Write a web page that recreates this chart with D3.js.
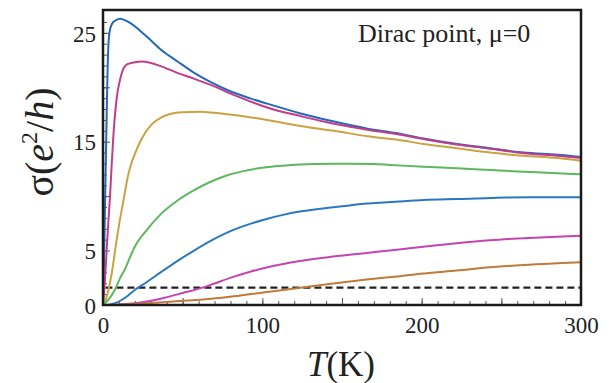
<!DOCTYPE html>
<html>
<head>
<meta charset="utf-8">
<script src="https://cdn.jsdelivr.net/npm/d3@7"></script>
<style>
  html, body { margin: 0; padding: 0; background: #fff; }
  svg { display: block; font-family: "Liberation Serif", "DejaVu Serif", serif; }
  svg text { font-family: "Liberation Serif", "DejaVu Serif", serif; }
</style>
</head>
<body>
<svg id="chart" width="613" height="383"></svg>
<script>
// Conductivity at the Dirac point vs temperature, one curve per disorder level.
const xTickLabels = [0, 100, 200, 300];
const yTickLabels = [0, 5, 15, 25];
const minimumConductivity = 1.6;

const t1 = [0, 0.5, 1, 1.5, 2, 2.5, 3, 3.5, 4.4, 6.5, 10.7, 15.9, 26.4, 36, 47, 57, 68, 78, 92, 103, 124, 145, 166, 184, 201, 222, 243, 264, 285, 300];
const s1 = [0, 3, 7, 11, 15, 19, 22.3, 24.2, 25.3, 26.0, 26.3, 26.0, 24.8, 23.5, 22.35, 21.35, 20.45, 19.75, 19.0, 18.5, 17.6, 16.85, 16.2, 15.8, 15.3, 14.8, 14.4, 14.0, 13.8, 13.6];

const t2 = [0, 1, 2, 3.3, 4.4, 5.5, 6.5, 8.6, 10.7, 12, 15, 20, 24.3, 37, 47, 57, 68, 82, 98, 103, 124, 145, 166, 184, 201, 222, 243, 264, 285, 300];
const s2 = [0, 1.8, 4.3, 7.5, 10, 13, 15.5, 19, 20.7, 21.4, 22.1, 22.3, 22.36, 21.9, 21.3, 20.8, 20.2, 19.3, 18.4, 18.15, 17.35, 16.65, 16.1, 15.7, 15.25, 14.75, 14.35, 13.95, 13.7, 13.5];

const t3 = [0, 2, 4, 5.5, 7, 8.6, 10, 11.7, 13.8, 15.9, 18, 20.1, 23, 26.4, 30, 33, 41, 50, 61, 70, 82, 103, 124, 145, 166, 184, 201, 222, 243, 264, 285, 300];
const s3 = [0, 0.6, 1.8, 2.9, 4.4, 6.0, 7.3, 8.7, 10.4, 12.0, 13.1, 13.9, 14.9, 15.8, 16.5, 16.9, 17.5, 17.7, 17.75, 17.65, 17.46, 17.0, 16.45, 16.0, 15.5, 15.2, 14.8, 14.4, 14.0, 13.7, 13.5, 13.25];

const t4 = [0, 1.3, 4, 7.5, 10.5, 13.8, 17, 20.1, 26.4, 36.3, 46.8, 57.2, 67.2, 77.6, 88, 98.5, 113, 132, 155, 170, 180, 201, 222, 243, 264, 285, 300];
const s4 = [0, 0.15, 0.6, 1.4, 2.4, 3.3, 4.4, 5.4, 6.7, 8.35, 9.6, 10.55, 11.3, 11.9, 12.3, 12.58, 12.8, 12.95, 12.97, 12.95, 12.87, 12.7, 12.56, 12.4, 12.25, 12.1, 12.0];

const t5 = [0, 3.3, 7, 11.7, 16, 20.1, 26.4, 36.8, 47.3, 57.7, 69, 81.8, 92.3, 102.7, 113, 123.6, 134, 144.5, 155, 165.5, 176, 186, 201, 222, 243, 253, 275, 300];
const s5 = [0, 0.03, 0.15, 0.46, 0.9, 1.4, 2.0, 3.06, 4.1, 5.05, 6.0, 6.9, 7.45, 7.9, 8.28, 8.58, 8.8, 8.97, 9.15, 9.32, 9.42, 9.5, 9.65, 9.74, 9.82, 9.88, 9.9, 9.9];

const t6 = [0, 7.5, 20, 36.8, 50, 63, 70, 81.8, 92.3, 102.7, 123.6, 144.5, 165.5, 183, 201, 222, 243, 264, 285, 300];
const s6 = [0, 0.02, 0.15, 0.6, 1.1, 1.62, 1.98, 2.58, 3.05, 3.45, 4.05, 4.45, 4.78, 5.05, 5.35, 5.68, 5.95, 6.13, 6.28, 6.37];

const t7 = [0, 10, 20, 30, 40, 48, 61, 82, 103, 124, 144.5, 165.5, 183, 201, 222, 243, 264, 285, 300];
const s7 = [0, 0.03, 0.1, 0.18, 0.28, 0.37, 0.48, 0.8, 1.2, 1.58, 1.98, 2.34, 2.6, 2.9, 3.17, 3.46, 3.68, 3.83, 3.92];

const curveTemps = [t1, t2, t3, t4, t5, t6, t7];
const curveSigmas = [s1, s2, s3, s4, s5, s6, s7];
const curveColors = ["#2468b8", "#c23c8c", "#c9a241", "#5cb85f", "#2a78bf", "#c444b0", "#c07a3a"];

const svg = d3.select("#chart");
const plotLeft = 103, plotRight = 581, plotTop = 10, plotBottom = 305;
const serif = "'Liberation Serif', 'DejaVu Serif', serif";

const x = d3.scaleLinear().domain([0, 300]).range([plotLeft, plotRight]);
const y = d3.scaleLinear().domain([0, 27.1]).range([plotBottom, plotTop]);

// clip curves to the frame
svg.append("clipPath").attr("id", "plotClip")
  .append("rect").attr("x", plotLeft).attr("y", plotTop)
  .attr("width", plotRight - plotLeft).attr("height", plotBottom - plotTop);

// minor and major ticks, drawn inward
const gx = svg.append("g").attr("transform", `translate(0,${plotBottom})`);
gx.call(d3.axisBottom(x).tickValues(d3.range(0, 301, 10)).tickSize(-4).tickFormat(""));
const gx2 = svg.append("g").attr("transform", `translate(0,${plotBottom})`);
gx2.call(d3.axisBottom(x).tickValues(d3.range(0, 301, 50)).tickSize(-7).tickFormat(""));
const gxl = svg.append("g").attr("transform", `translate(0,${plotBottom})`);
gxl.call(d3.axisBottom(x).tickValues(xTickLabels).tickSize(0).tickPadding(12).tickFormat(d3.format("d")));

const gy = svg.append("g").attr("transform", `translate(${plotLeft},0)`);
gy.call(d3.axisLeft(y).tickValues(d3.range(0, 27, 1)).tickSize(-4).tickFormat(""));
const gy2 = svg.append("g").attr("transform", `translate(${plotLeft},0)`);
gy2.call(d3.axisLeft(y).tickValues(d3.range(0, 27, 5)).tickSize(-7).tickFormat(""));
const gyl = svg.append("g").attr("transform", `translate(${plotLeft},0)`);
gyl.call(d3.axisLeft(y).tickValues(yTickLabels).tickSize(0).tickPadding(7).tickFormat(d3.format("d")));

svg.selectAll(".domain").remove();
svg.selectAll(".tick line").attr("stroke", "#555").attr("stroke-width", 1);
[gx, gx2, gxl, gy, gy2, gyl].forEach(g => g.attr("font-family", serif));
[gxl, gyl].forEach(g => g.selectAll("text")
  .style("font-family", serif)
  .attr("font-size", 23).attr("fill", "#222"));
gyl.selectAll("text").attr("dy", "0.36em");

// dashed minimum-conductivity level
svg.append("line")
  .attr("x1", x(1.5)).attr("x2", plotRight)
  .attr("y1", y(minimumConductivity)).attr("y2", y(minimumConductivity))
  .attr("stroke", "#222").attr("stroke-width", 2.2).attr("stroke-dasharray", "7,4");

// curves
const line = d3.line().x(d => x(d[0])).y(d => y(d[1])).curve(d3.curveMonotoneX);
const gCurves = svg.append("g").attr("clip-path", "url(#plotClip)");
curveTemps.forEach((ts, i) => {
  const pts = ts.map((t, j) => [t, curveSigmas[i][j]]);
  gCurves.append("path").datum(pts)
    .attr("d", line)
    .attr("fill", "none")
    .attr("stroke", curveColors[i])
    .attr("stroke-width", 2)
    .attr("stroke-linejoin", "round");
});

// frame
svg.append("rect")
  .attr("x", plotLeft).attr("y", plotTop)
  .attr("width", plotRight - plotLeft).attr("height", plotBottom - plotTop)
  .attr("fill", "none").attr("stroke", "#1a1a1a").attr("stroke-width", 2.5);

// annotation
svg.append("text")
  .attr("x", 358).attr("y", 42)
  .style("font-family", serif)
  .attr("font-size", 26).attr("fill", "#222")
  .text("Dirac point, μ=0");

// axis titles
const xt = svg.append("text")
  .attr("x", 341).attr("y", 376)
  .attr("text-anchor", "middle")
  .style("font-family", serif)
  .attr("font-size", 35).attr("fill", "#222");
xt.append("tspan").attr("font-style", "italic").text("T");
xt.append("tspan").text("(K)");

const yt = svg.append("text")
  .attr("transform", "translate(53,142) rotate(-90)")
  .attr("text-anchor", "middle")
  .style("font-family", serif)
  .attr("font-size", 40).attr("fill", "#222");
yt.append("tspan").text("σ(");
yt.append("tspan").attr("font-style", "italic").text("e");
yt.append("tspan").attr("font-size", 24).attr("dy", -16).text("2");
yt.append("tspan").attr("dy", 16).text("/");
yt.append("tspan").attr("font-style", "italic").text("h");
yt.append("tspan").text(")");
</script>
</body>
</html>
